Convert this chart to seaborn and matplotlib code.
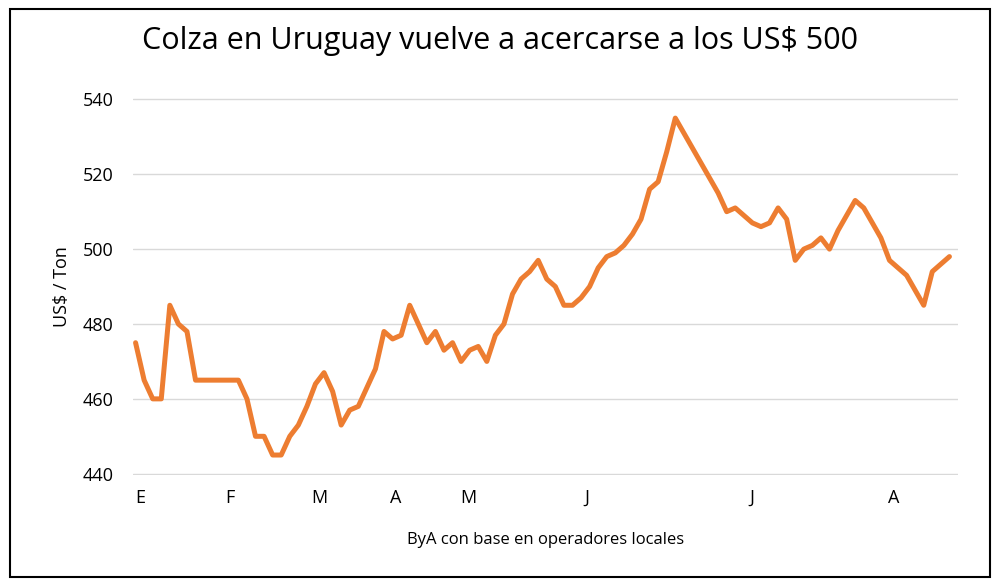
import numpy as np
import pandas as pd
import seaborn as sns
import matplotlib.pyplot as plt
from matplotlib.patches import Rectangle

# precios (US$/ton)
precios = [475, 465, 460, 460, 485, 480, 478, 465, 465, 465,
           465, 465, 465, 460, 450, 450, 445, 445, 450, 453,
           458, 464, 467, 462, 453, 457, 458, 463, 468, 478,
           476, 477, 485, 480, 475, 478, 473, 475, 470, 473,
           474, 470, 477, 480, 488, 492, 494, 497, 492, 490,
           485, 485, 487, 490, 495, 498, 499, 501, 504, 508,
           516, 518, 526, 535, 531, 527, 523, 519, 515, 510,
           511, 509, 507, 506, 507, 511, 508, 497, 500, 501,
           503, 500, 505, 509, 513, 511, 507, 503, 497, 495,
           493, 489, 485, 494, 496, 498]
mes_pos = [0.6, 11, 21.5, 30.4, 38.8, 52.7, 71.9, 88.5]
mes_lab = ['E', 'F', 'M', 'A', 'M', 'J', 'J', 'A']
y_ticks = [440, 460, 480, 500, 520, 540]

df = pd.DataFrame({'i': np.arange(len(precios)), 'precio': precios})

sns.set_style('white')
plt.rcParams['font.family'] = ['Open Sans', 'DejaVu Sans']
plt.rcParams['text.color'] = 'black'
plt.rcParams['axes.labelcolor'] = 'black'
plt.rcParams['xtick.color'] = 'black'
plt.rcParams['ytick.color'] = 'black'

fig = plt.figure(figsize=(10, 5.86), dpi=100)
ax = fig.add_axes([0.133, 0.189, 0.825, 0.644])
sns.lineplot(data=df, x='i', y='precio', ax=ax, color='#ED7D31', linewidth=3.6)

ax.set_xlim(-0.3, 96)
ax.set_ylim(439.6, 540.4)
ax.set_yticks(y_ticks)
ax.set_xticks(mes_pos)
ax.set_xticklabels(mes_lab)
ax.tick_params(axis='y', length=0, labelsize=13, pad=14)
ax.tick_params(axis='x', length=0, labelsize=13, pad=10)
ax.grid(axis='y', color='#d9d9d9', linewidth=1)
for s in ax.spines.values():
    s.set_visible(False)
ax.set_xlabel('ByA con base en operadores locales', fontsize=12, labelpad=18)
ax.set_ylabel('US$ / Ton', fontsize=13, labelpad=8)
fig.suptitle('Colza en Uruguay vuelve a acercarse a los US$ 500', fontsize=22, y=0.955)

fig.patches.append(Rectangle((0.01, 0.015), 0.98, 0.97, transform=fig.transFigure,
                             fill=False, edgecolor='black', linewidth=1.5))
fig.savefig('out.png', dpi=100)
